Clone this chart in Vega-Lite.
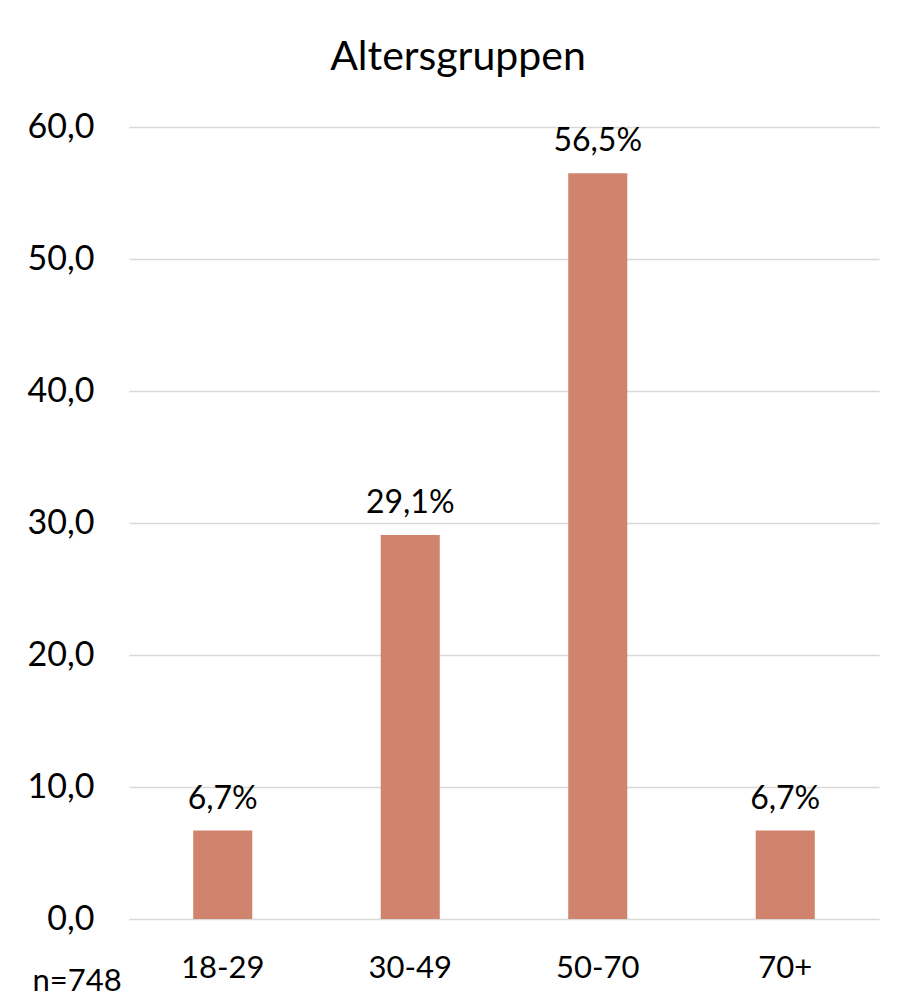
{
  "$schema": "https://vega.github.io/schema/vega-lite/v6.json",
  "width": 750,
  "height": 792,
  "autosize": {"type": "none"},
  "padding": {"left": 129, "top": 127, "right": 19, "bottom": 81},
  "background": "white",
  "config": {
    "locale": {"number": {"decimal": ",", "thousands": ".", "grouping": [3], "currency": ["", " €"]}},
    "font": "Lato",
    "view": {"stroke": null}
  },
  "title": {
    "text": "Altersgruppen",
    "font": "Lato",
    "fontSize": 41,
    "fontWeight": "normal",
    "color": "#000000",
    "anchor": "middle",
    "frame": "group",
    "baseline": "alphabetic",
    "offset": 6,
    "dy": 7,
    "dx": -46
  },
  "data": {
    "values": [
      {"group": "18-29", "value": 6.7},
      {"group": "30-49", "value": 29.1},
      {"group": "50-70", "value": 56.5},
      {"group": "70+", "value": 6.7}
    ]
  },
  "transform": [
    {"calculate": "replace(format(datum.value, '.1f'), '.', ',') + '%'", "as": "label"}
  ],
  "encoding": {
    "x": {
      "field": "group",
      "type": "nominal",
      "sort": null,
      "scale": {"paddingInner": 0.685, "paddingOuter": 0.3425},
      "axis": {
        "title": "n=748",
        "titleFont": "Lato",
        "titleFontSize": 31,
        "titleFontWeight": "normal",
        "titleColor": "#000000",
        "titleAnchor": "start",
        "titleAlign": "left",
        "titleBaseline": "alphabetic",
        "titleX": -97,
        "titleY": 71,
        "labelAngle": 0,
        "labelFont": "Lato",
        "labelFontSize": 31,
        "labelColor": "#000000",
        "labelBaseline": "alphabetic",
        "labelPadding": 58,
        "ticks": false,
        "tickSize": 0,
        "domain": false,
        "grid": false
      }
    },
    "y": {
      "field": "value",
      "type": "quantitative",
      "scale": {"domain": [0, 60], "nice": false},
      "axis": {
        "title": null,
        "values": [0, 10, 20, 30, 40, 50, 60],
        "format": ".1f",
        "labelFont": "Lato",
        "labelFontSize": 34,
        "labelColor": "#000000",
        "labelPadding": 35,
        "ticks": false,
        "tickSize": 0,
        "domain": false,
        "grid": true,
        "gridColor": "#d9d9d9",
        "gridWidth": 1.5
      }
    }
  },
  "layer": [
    {"mark": {"type": "bar", "color": "#D1846D"}},
    {
      "mark": {"type": "text", "font": "Lato", "fontSize": 32, "color": "#000000", "baseline": "alphabetic", "dy": -22},
      "encoding": {"text": {"field": "label", "type": "nominal"}}
    }
  ]
}
